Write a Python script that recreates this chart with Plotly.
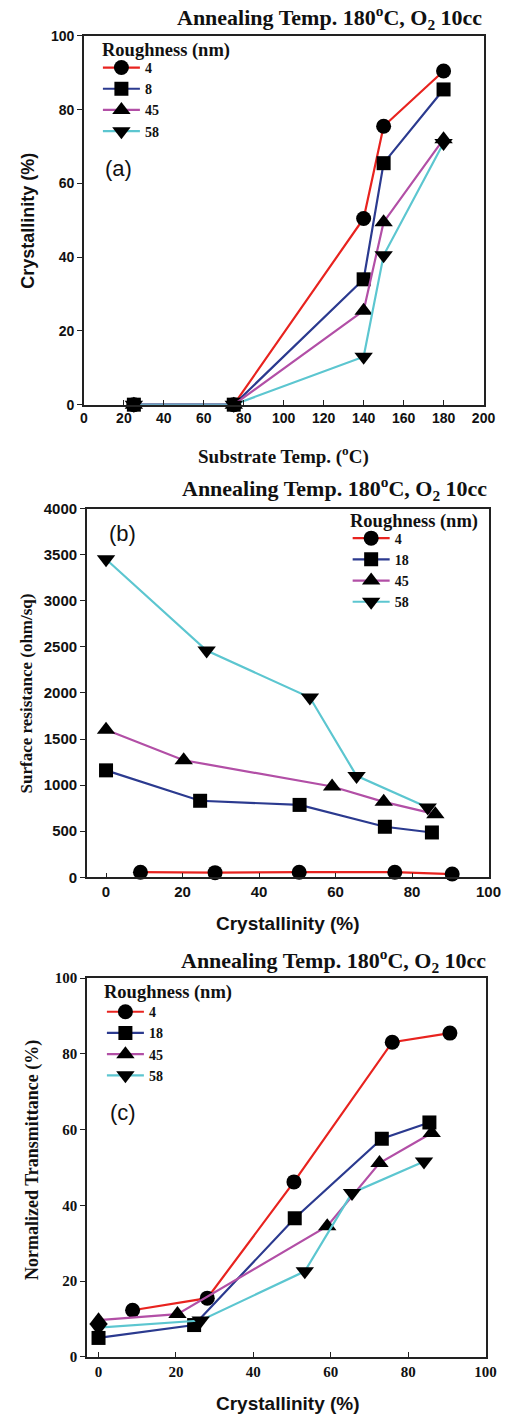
import plotly.graph_objects as go

# ---------------- data ----------------
roughness_a = ["4", "8", "45", "58"]
roughness_bc = ["4", "18", "45", "58"]

# (a) Crystallinity vs substrate temperature
a_substrate_temp = [25, 75, 140, 150, 180]
a_cryst_4 = [0, 0, 50.5, 75.5, 90.5]
a_cryst_8 = [0, 0, 34, 65.5, 85.5]
a_cryst_45 = [0, 0, 25.5, 49.5, 72]
a_cryst_58 = [0, 0, 13, 40.5, 71]

# (b) Surface resistance vs crystallinity
b_x_4 = [9, 28.5, 50.5, 75.5, 90.5]
b_res_4 = [55, 50, 55, 55, 35]
b_x_18 = [0, 24.6, 50.6, 72.9, 85.2]
b_res_18 = [1160, 830, 785, 548, 486]
b_x_45 = [0, 20.3, 59.1, 72.6, 86.1]
b_res_45 = [1600, 1270, 985, 818, 685]
b_x_58 = [0, 26.3, 53.3, 65.5, 84.1]
b_res_58 = [3450, 2460, 1950, 1100, 757]

# (c) Normalized transmittance vs crystallinity
c_x_4 = [8.8, 28.1, 50.5, 75.9, 90.8]
c_tr_4 = [12.3, 15.5, 46.2, 83.1, 85.5]
c_x_18 = [0, 24.7, 50.7, 73.2, 85.5]
c_tr_18 = [5, 8.4, 36.6, 57.6, 61.9]
c_x_45 = [0, 20.4, 59.1, 72.6, 86.1]
c_tr_45 = [9.7, 11.3, 34.5, 51.2, 59.1]
c_x_58 = [0, 26.4, 53.3, 65.5, 84.1]
c_tr_58 = [7.7, 9.6, 22.6, 43.3, 51.6]

# ---------------- layout helpers ----------------
W, H = 508, 1418
# picture position -> page position (empirical calibration of the capture)
SX, AX = 508 / 524, 3.0
SY, AY = 1418 / 1434, 8.0


def ix(p):
    return ((p - AX) / SX) / W


def iy(p):
    return 1 - ((p - AY) / SY) / H


colors = ["#e8231f", "#2b3a8f", "#b24fa6", "#5cc6d0"]
symbols = ["circle", "square", "triangle-up", "triangle-down"]
sizes = [15, 14, 16, 16]
SERIF = "Liberation Serif, Times New Roman, serif"
SANS = "Liberation Sans, Arial, sans-serif"
INK = "#111"

fig = go.Figure()
panels = [
    ("x", "y", "legend", roughness_a,
     [(a_substrate_temp, a_cryst_4), (a_substrate_temp, a_cryst_8),
      (a_substrate_temp, a_cryst_45), (a_substrate_temp, a_cryst_58)]),
    ("x2", "y2", "legend2", roughness_bc,
     [(b_x_4, b_res_4), (b_x_18, b_res_18), (b_x_45, b_res_45), (b_x_58, b_res_58)]),
    ("x3", "y3", "legend3", roughness_bc,
     [(c_x_4, c_tr_4), (c_x_18, c_tr_18), (c_x_45, c_tr_45), (c_x_58, c_tr_58)]),
]
for xa, ya, leg, names, series in panels:
    for i, (xs, ys) in enumerate(series):
        fig.add_trace(go.Scatter(
            x=xs, y=ys, name=names[i], mode="lines+markers",
            xaxis=xa, yaxis=ya, legend=leg, cliponaxis=False,
            line=dict(color=colors[i], width=2.2),
            marker=dict(symbol=symbols[i], size=sizes[i], color="black", line=dict(width=0)),
        ))

axis_common = dict(showline=True, mirror=True, linecolor="#222", linewidth=1.5,
                   showgrid=False, zeroline=False, ticks="outside", ticklen=5,
                   tickcolor="#222", tickwidth=1.2)
fig.update_layout(
    width=W, height=H, margin=dict(l=0, r=0, t=0, b=0),
    paper_bgcolor="white", plot_bgcolor="white", showlegend=True,
    # (a)
    xaxis=dict(axis_common, domain=[ix(83), ix(483)], anchor="y", range=[0, 200],
               tickvals=list(range(0, 201, 20)), ticks="inside",
               tickfont=dict(family=SANS, size=14, color=INK, weight="bold")),
    yaxis=dict(axis_common, domain=[iy(404), iy(35)], anchor="x", range=[0, 100],
               tickvals=list(range(0, 101, 20)),
               tickfont=dict(family=SANS, size=14, color=INK, weight="bold")),
    # (b)
    xaxis2=dict(axis_common, domain=[ix(86), ix(488)], anchor="y2", range=[-5, 100],
                tickvals=list(range(0, 101, 20)), ticks="inside",
                tickfont=dict(family=SANS, size=15, color=INK, weight="bold")),
    yaxis2=dict(axis_common, domain=[iy(877), iy(508)], anchor="x2", range=[0, 4000],
                tickvals=list(range(0, 4001, 500)),
                tickfont=dict(family=SANS, size=15, color=INK, weight="bold")),
    # (c)
    xaxis3=dict(axis_common, domain=[ix(86), ix(485)], anchor="y3", range=[-3, 100],
                tickvals=list(range(0, 101, 20)), ticks="inside",
                tickfont=dict(family=SERIF, size=15, color=INK, weight="bold")),
    yaxis3=dict(axis_common, domain=[iy(1357), iy(978)], anchor="x3", range=[0, 100],
                tickvals=list(range(0, 101, 20)),
                tickfont=dict(family=SERIF, size=15, color=INK, weight="bold")),
)

legend_common = dict(bgcolor="rgba(0,0,0,0)", borderwidth=0, xanchor="left",
                     yanchor="top", tracegroupgap=0, itemsizing="trace", itemwidth=37,
                     font=dict(family=SERIF, size=14, color=INK, weight="bold"))
fig.update_layout(
    legend=dict(legend_common, x=ix(97), y=iy(67 - 16)),
    legend2=dict(legend_common, x=ix(347), y=iy(538 - 16)),
    legend3=dict(legend_common, x=ix(101), y=iy(1012 - 16)),
)

title_text = "Annealing Temp. 180<sup>o</sup>C, O<sub>2</sub> 10cc"
title_font = dict(family=SERIF, size=22, color=INK, weight="bold")
leg_title_font = dict(family=SERIF, size=18.5, color=INK, weight="bold")
annos = [
    # panel titles
    dict(x=ix(483), y=iy(17), text=title_text, xanchor="right", yanchor="middle", font=title_font),
    dict(x=ix(488), y=iy(488), text=title_text, xanchor="right", yanchor="middle", font=title_font),
    dict(x=ix(487), y=iy(960), text=title_text, xanchor="right", yanchor="middle", font=title_font),
    # legend titles
    dict(x=ix(99), y=iy(50), text="Roughness (nm)", xanchor="left", yanchor="middle", font=leg_title_font),
    dict(x=ix(347), y=iy(521), text="Roughness (nm)", xanchor="left", yanchor="middle", font=leg_title_font),
    dict(x=ix(101), y=iy(992), text="Roughness (nm)", xanchor="left", yanchor="middle", font=leg_title_font),
    # panel labels
    dict(x=ix(118), y=iy(168), text="(a)", xanchor="center", yanchor="middle",
         font=dict(family=SANS, size=22, color=INK)),
    dict(x=ix(122), y=iy(533), text="(b)", xanchor="center", yanchor="middle",
         font=dict(family=SANS, size=22, color=INK)),
    dict(x=ix(122), y=iy(1112), text="(c)", xanchor="center", yanchor="middle",
         font=dict(family=SANS, size=22, color=INK)),
    # axis titles
    dict(x=ix(283), y=iy(455), text="Substrate Temp. (<sup>o</sup>C)", xanchor="center",
         yanchor="middle", font=dict(family=SERIF, size=19, color=INK, weight="bold")),
    dict(x=ix(27), y=iy(220), text="Crystallinity (%)", textangle=-90, xanchor="center",
         yanchor="middle", font=dict(family=SANS, size=18, color=INK, weight="bold")),
    dict(x=ix(287), y=iy(923), text="Crystallinity (%)", xanchor="center",
         yanchor="middle", font=dict(family=SANS, size=19, color=INK, weight="bold")),
    dict(x=ix(25), y=iy(693), text="Surface resistance (ohm/sq)", textangle=-90,
         xanchor="center", yanchor="middle",
         font=dict(family=SERIF, size=17, color=INK, weight="bold")),
    dict(x=ix(287), y=iy(1404), text="Crystallinity (%)", xanchor="center",
         yanchor="middle", font=dict(family=SANS, size=19, color=INK, weight="bold")),
    dict(x=ix(31), y=iy(1160), text="Normalized Transmittance (%)", textangle=-90,
         xanchor="center", yanchor="middle",
         font=dict(family=SERIF, size=18, color=INK, weight="bold")),
]
for a in annos:
    a.update(xref="paper", yref="paper", showarrow=False)
fig.update_layout(annotations=annos)

fig.write_html("out.html", config={"displayModeBar": False},
               post_script="document.body.style.margin='0px';")
